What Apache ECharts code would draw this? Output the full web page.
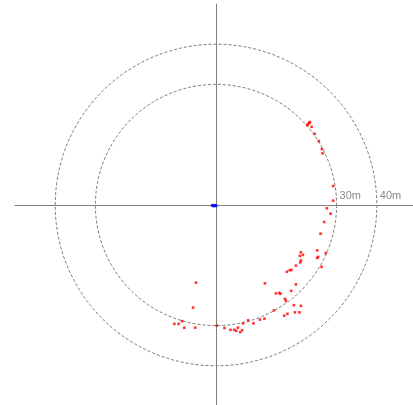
<!DOCTYPE html>
<html>
<head>
<meta charset="utf-8">
<script src="https://cdn.jsdelivr.net/npm/echarts@6/dist/echarts.min.js"></script>
<style>html,body{margin:0;padding:0;background:#fff;}#c{width:413px;height:405px;}</style>
</head>
<body>
<div id="c"></div>
<script>
// Target positions in metres (x: right, y: forward/up)
var redX = [23.18,22.93,23.35,22.68,23.78,24.52,25.59,26.34,26.51,29.14,29.14,27.58,28.50,26.91,26.01,25.17,27.33,25.42,25.17,21.12,21.61,20.87,21.12,20.94,19.88,26.26,18.76,18.34,17.64,12.17,19.88,14.91,15.78,16.02,18.71,17.14,17.39,19.38,21.12,14.41,17.76,16.97,19.63,20.75,12.05,10.93,-4.97,-5.71,-8.45,-10.36,-9.32,-7.88,-5.17,0.17,2.11,3.60,4.52,5.04,5.47,6.04,6.51,6.71,8.00,9.32];
var redY = [20.45,20.12,20.62,19.88,19.45,17.71,15.90,13.91,12.84,4.72,1.07,-0.82,-2.16,-4.22,-7.13,-11.30,-11.93,-12.92,-13.17,-11.75,-12.42,-12.67,-13.79,-14.29,-15.08,-15.40,-16.15,-16.22,-16.60,-19.50,-19.75,-21.99,-21.86,-22.11,-21.37,-23.35,-23.85,-24.92,-25.09,-26.21,-27.08,-27.53,-26.71,-26.71,-28.27,-28.52,-19.30,-25.52,-28.89,-29.57,-29.57,-30.56,-30.51,-29.99,-30.61,-31.06,-31.06,-31.30,-30.51,-31.60,-31.13,-29.44,-28.70,-29.44];
var blueX = [-0.9,-0.6,-0.3,0.0];
var blueY = [-0.1,-0.2,-0.1,-0.2];
var rangeRings = [30, 40];      // metres
var axisMax = 50;               // metres
var ringTicks = [0,10,20,30,40,50];

function pairs(xs, ys){ return xs.map(function(x,i){ return [x, ys[i]]; }); }

var chart = echarts.init(document.getElementById('c'), null, {renderer:'canvas'});
var cx = 216, cy = 205, R = 201;
chart.setOption({
  animation: false,
  backgroundColor: '#ffffff',
  grid: [
    { left: cx - R, top: cy - R, width: 2*R, height: 2*R, containLabel: false, outerBoundsMode: 'none' },
    { left: cx - R, top: cy - R, width: 2*R, height: R, containLabel: false, outerBoundsMode: 'none' }
  ],
  polar: { center: [cx, cy], radius: R },
  angleAxis: { show: false, min: 0, max: 360, startAngle: 0 },
  radiusAxis: {
    min: 0, max: axisMax, interval: 10,
    axisLine: {show:false}, axisTick:{show:false}, axisLabel:{show:false},
    splitLine: { show: true, lineStyle: {
      color: ringTicks.map(function(t){ return rangeRings.indexOf(t) >= 0 ? '#777777' : 'rgba(0,0,0,0)'; }),
      type: [3,2], width: 1 } }
  },
  xAxis: [{
    type: 'value', min: -axisMax, max: axisMax, interval: 10,
    axisLine: { onZero: true, lineStyle: { color: '#808080', width: 1 } },
    axisTick: { show: false }, splitLine: { show: false }, axisLabel: { show: false }
  }, {
    gridIndex: 1, type: 'value', min: -axisMax, max: axisMax, interval: 10, position: 'bottom',
    axisLine: { show: false }, axisTick: { show: false }, splitLine: { show: false },
    axisLabel: {
      inside: true,
      formatter: function(v){ return rangeRings.indexOf(v) >= 0 ? v + 'm' : ''; },
      align: 'left', margin: 4, color: '#8a8a8a', fontSize: 11,
      fontFamily: 'Liberation Sans', padding: [0,0,0,3]
    }
  }],
  yAxis: [{
    type: 'value', min: -axisMax, max: axisMax,
    axisLine: { onZero: true, lineStyle: { color: '#808080', width: 1 } },
    axisTick: { show: false }, axisLabel: { show: false }, splitLine: { show: false }
  }, {
    gridIndex: 1, type: 'value', min: 0, max: axisMax, show: false
  }],
  series: [
    { type: 'scatter', data: pairs(redX, redY), symbol: 'rect', symbolSize: 2.6,
      itemStyle: { color: '#ff0000' } },
    { type: 'scatter', data: pairs(blueX, blueY), symbol: 'rect', symbolSize: 3,
      itemStyle: { color: '#0000ff' } }
  ]
});
</script>
</body>
</html>
